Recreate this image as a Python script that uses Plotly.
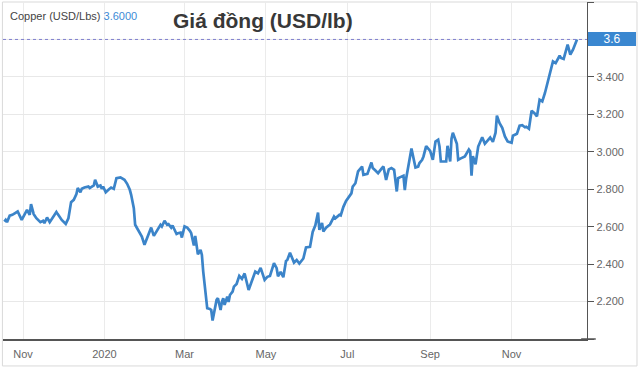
import plotly.graph_objects as go

dates = [
    "2019-10-18", "2019-10-19", "2019-10-20", "2019-10-22", "2019-10-24", "2019-10-26", "2019-10-28", "2019-10-31",
    "2019-11-02", "2019-11-04", "2019-11-06", "2019-11-07", "2019-11-09", "2019-11-11", "2019-11-14", "2019-11-16",
    "2019-11-17", "2019-11-19", "2019-11-21", "2019-11-23", "2019-11-26", "2019-11-27", "2019-11-30",
    "2019-12-03", "2019-12-05", "2019-12-07", "2019-12-09", "2019-12-11", "2019-12-12", "2019-12-14", "2019-12-15",
    "2019-12-17", "2019-12-20", "2019-12-21", "2019-12-24", "2019-12-25", "2019-12-27", "2019-12-29", "2019-12-30",
    "2019-12-31",
    "2020-01-02", "2020-01-04", "2020-01-06", "2020-01-08", "2020-01-10", "2020-01-13", "2020-01-16", "2020-01-18",
    "2020-01-20", "2020-01-21", "2020-01-23", "2020-01-24", "2020-01-26", "2020-01-29", "2020-01-31",
    "2020-02-03", "2020-02-05", "2020-02-07", "2020-02-09", "2020-02-12", "2020-02-13", "2020-02-15", "2020-02-17",
    "2020-02-18", "2020-02-20", "2020-02-21", "2020-02-24", "2020-02-25", "2020-02-27", "2020-02-28",
    "2020-03-01", "2020-03-03", "2020-03-05", "2020-03-06", "2020-03-08", "2020-03-09", "2020-03-10", "2020-03-11",
    "2020-03-13", "2020-03-14", "2020-03-15", "2020-03-16", "2020-03-18", "2020-03-20", "2020-03-21", "2020-03-22",
    "2020-03-24", "2020-03-25", "2020-03-26", "2020-03-28", "2020-03-29", "2020-03-30", "2020-03-31",
    "2020-04-02", "2020-04-03", "2020-04-04", "2020-04-06", "2020-04-07", "2020-04-09", "2020-04-11", "2020-04-13",
    "2020-04-15", "2020-04-18", "2020-04-20", "2020-04-23", "2020-04-25", "2020-04-27", "2020-04-30",
    "2020-05-02", "2020-05-04", "2020-05-07", "2020-05-09", "2020-05-10", "2020-05-12", "2020-05-14", "2020-05-16",
    "2020-05-17", "2020-05-19", "2020-05-20", "2020-05-22", "2020-05-24", "2020-05-26", "2020-05-29", "2020-05-31",
    "2020-06-03", "2020-06-05", "2020-06-07", "2020-06-09", "2020-06-10", "2020-06-12", "2020-06-13", "2020-06-15",
    "2020-06-18", "2020-06-21", "2020-06-22", "2020-06-25", "2020-06-26", "2020-06-28", "2020-06-30",
    "2020-07-02", "2020-07-04", "2020-07-05", "2020-07-07", "2020-07-09", "2020-07-10", "2020-07-12", "2020-07-13",
    "2020-07-16", "2020-07-19", "2020-07-20", "2020-07-22", "2020-07-24", "2020-07-27", "2020-07-28", "2020-07-30",
    "2020-08-01", "2020-08-03", "2020-08-05", "2020-08-07", "2020-08-08", "2020-08-10", "2020-08-12", "2020-08-13",
    "2020-08-14", "2020-08-18", "2020-08-21", "2020-08-23", "2020-08-24", "2020-08-26", "2020-08-27", "2020-08-29",
    "2020-09-01", "2020-09-03", "2020-09-05", "2020-09-07", "2020-09-08", "2020-09-09", "2020-09-11", "2020-09-13",
    "2020-09-14", "2020-09-16", "2020-09-17", "2020-09-18", "2020-09-21", "2020-09-22", "2020-09-24", "2020-09-27",
    "2020-09-30",
    "2020-10-01", "2020-10-02", "2020-10-03", "2020-10-05", "2020-10-07", "2020-10-10", "2020-10-12", "2020-10-14",
    "2020-10-16", "2020-10-18", "2020-10-20", "2020-10-21", "2020-10-23", "2020-10-25", "2020-10-27", "2020-10-29",
    "2020-11-01", "2020-11-02", "2020-11-05", "2020-11-07", "2020-11-09", "2020-11-11", "2020-11-12", "2020-11-14",
    "2020-11-16", "2020-11-18", "2020-11-20", "2020-11-22", "2020-11-24", "2020-11-26", "2020-11-29",
    "2020-12-02", "2020-12-04", "2020-12-07", "2020-12-08", "2020-12-10", "2020-12-13", "2020-12-15", "2020-12-17",
    "2020-12-20",
]

prices = [
    2.627, 2.636, 2.624, 2.659, 2.663, 2.672, 2.681, 2.636,
    2.663, 2.690, 2.663, 2.720, 2.667, 2.645, 2.624, 2.631,
    2.619, 2.649, 2.624, 2.645, 2.678, 2.667, 2.636,
    2.615, 2.645, 2.731, 2.743, 2.774, 2.806, 2.784, 2.802,
    2.809, 2.814, 2.806, 2.820, 2.850, 2.814, 2.820, 2.802,
    2.814,
    2.784, 2.797, 2.809, 2.802, 2.859, 2.863, 2.850, 2.829,
    2.797, 2.770, 2.699, 2.610, 2.583, 2.547, 2.503,
    2.565, 2.595, 2.551, 2.578, 2.610, 2.601, 2.631, 2.610,
    2.613, 2.595, 2.606, 2.561, 2.565, 2.568, 2.542,
    2.601, 2.595, 2.578, 2.565, 2.499, 2.551, 2.503, 2.453,
    2.476, 2.449, 2.360, 2.289, 2.164, 2.160, 2.155, 2.099,
    2.164, 2.209, 2.218, 2.155, 2.199, 2.218, 2.182,
    2.226, 2.198, 2.235, 2.253, 2.280, 2.294, 2.337, 2.321,
    2.350, 2.262, 2.299, 2.360, 2.351, 2.380, 2.316,
    2.332, 2.337, 2.405, 2.378, 2.335, 2.358, 2.330, 2.417,
    2.422, 2.461, 2.439, 2.408, 2.422, 2.403, 2.430, 2.489,
    2.492, 2.572, 2.607, 2.675, 2.583, 2.620, 2.574, 2.594,
    2.612, 2.654, 2.645, 2.663, 2.660, 2.706, 2.737,
    2.761, 2.778, 2.814, 2.832, 2.895, 2.904, 2.921, 2.877,
    2.882, 2.943, 2.913, 2.900, 2.886, 2.914, 2.921, 2.850,
    2.906, 2.913, 2.904, 2.788, 2.859, 2.866, 2.872, 2.795,
    2.856, 3.017, 2.916, 2.921, 2.940, 2.957, 2.975, 3.030,
    3.005, 2.957, 3.055, 3.064, 3.028, 2.948, 2.948, 2.948,
    3.032, 2.948, 3.070, 3.102, 3.043, 2.957, 2.965, 2.975,
    3.012,
    3.002, 2.872, 2.977, 2.933, 3.028, 3.078, 3.043, 3.059,
    3.076, 3.053, 3.102, 3.193, 3.153, 3.128, 3.082, 3.055,
    3.048, 3.086, 3.096, 3.139, 3.142, 3.131, 3.134, 3.123,
    3.219, 3.207, 3.189, 3.278, 3.269, 3.314, 3.403,
    3.483, 3.474, 3.513, 3.501, 3.496, 3.572, 3.519, 3.545,
    3.600,
]

x_tick_vals = ["2019-11-01", "2020-01-01", "2020-03-01", "2020-05-01",
               "2020-07-01", "2020-09-01", "2020-11-01"]
x_tick_text = ["Nov", "2020", "Mar", "May", "Jul", "Sep", "Nov"]

y_tick_vals = [2.0, 2.2, 2.4, 2.6, 2.8, 3.0, 3.2, 3.4, 3.6, 3.8]
y_tick_text = ["", "2.200", "2.400", "2.600", "2.800", "3.000", "3.200", "3.400", "", ""]

last_price = 3.6
title_text = "Giá đồng (USD/lb)"
series_name = "Copper (USD/Lbs)"

FONT = "Arial, Liberation Sans, sans-serif"
LINE_BLUE = "#3b84c9"

fig = go.Figure()
fig.add_trace(go.Scatter(
    x=dates, y=prices, mode="lines",
    line=dict(color=LINE_BLUE, width=2.7),
    showlegend=False, hoverinfo="skip",
))

fig.update_layout(
    width=640, height=369,
    margin=dict(l=3, r=53, t=2, b=30),
    paper_bgcolor="white", plot_bgcolor="white",
    font=dict(family=FONT, size=11, color="#666666"),
    xaxis=dict(
        type="date",
        range=["2019-10-17", "2020-12-27 12:00"],
        tickvals=x_tick_vals, ticktext=x_tick_text,
        showgrid=True, gridcolor="#ebebeb", gridwidth=1,
        showline=True, linecolor="#555555", linewidth=1.5,
        ticks="outside", ticklen=4, tickcolor="rgba(0,0,0,0)",
        tickfont=dict(size=11, color="#666666"),
        zeroline=False, fixedrange=True,
    ),
    yaxis=dict(
        range=[2.0, 3.8],
        side="right",
        tickvals=y_tick_vals, ticktext=y_tick_text,
        showgrid=True, gridcolor="#e8e8e8", gridwidth=1,
        showline=True, linecolor="#555555", linewidth=1.2,
        ticks="outside", ticklen=6, tickcolor="#555555",
        tickfont=dict(size=11, color="#666666"),
        zeroline=False, fixedrange=True,
    ),
    shapes=[
        # outer frame
        dict(type="rect", xref="paper", yref="paper",
             x0=-0.001, x1=1.0856, y0=-0.080, y1=1.0,
             line=dict(color="#d9d9d9", width=1), layer="below"),
        # last-price dotted line
        dict(type="line", xref="paper", yref="y",
             x0=0, x1=1, y0=last_price, y1=last_price,
             line=dict(color="#7f7fcf", width=1, dash="dot")),
        # x axis line extension
        dict(type="line", xref="paper", yref="paper",
             x0=0.99, x1=1.015, y0=0, y1=0,
             line=dict(color="#555555", width=1.5)),
    ],
    annotations=[
        dict(xref="paper", yref="paper", x=0.0086, y=0.958,
             xanchor="left", yanchor="middle", showarrow=False,
             text=series_name + " <span style='color:#3d8ad6'>3.6000</span>",
             font=dict(family=FONT, size=11, color="#444444")),
        dict(xref="paper", yref="paper", x=0.445, y=0.945,
             xanchor="center", yanchor="middle", showarrow=False,
             text="<b>" + title_text + "</b>",
             font=dict(family=FONT, size=21, color="#383838")),
        dict(xref="paper", yref="y", x=1.0017, y=last_price,
             xanchor="left", yanchor="middle", showarrow=False,
             text="3.6", width=48, height=14, align="center",
             bgcolor="#3a87d0", borderpad=0, borderwidth=0,
             font=dict(family=FONT, size=12, color="white")),
    ],
)

fig.write_html(
    "out.html",
    config={"displayModeBar": False, "staticPlot": True},
    post_script="document.body.style.margin='0';document.body.style.padding='0';",
)
